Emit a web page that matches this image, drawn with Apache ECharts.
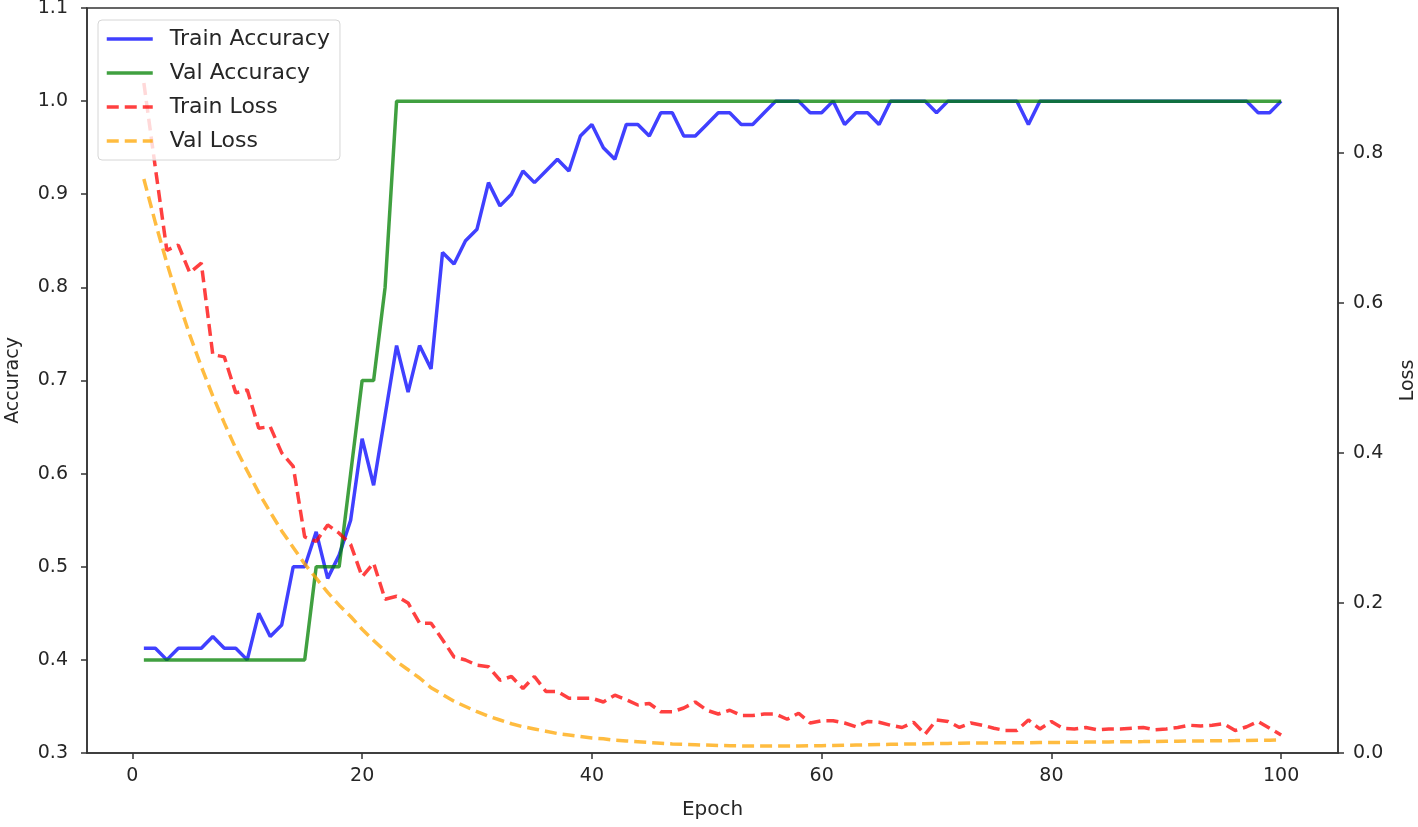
<!DOCTYPE html>
<html>
<head>
<meta charset="utf-8">
<script src="https://cdn.jsdelivr.net/npm/echarts@6/dist/echarts.min.js"></script>
<style>
  html, body { margin: 0; padding: 0; background: #fff; }
  #chart { width: 1418px; height: 827px; }
</style>
</head>
<body>
<div id="chart"></div>
<script>
// ---- data ----
const epochs = Array.from({length: 100}, (_, i) => i + 1);

const trainAcc = [
  0.4125, 0.4125, 0.4, 0.4125, 0.4125, 0.4125, 0.425, 0.4125, 0.4125, 0.4,
  0.45, 0.425, 0.4375, 0.5, 0.5, 0.5375, 0.4875, 0.5125, 0.55, 0.6375,
  0.5875, 0.6625, 0.7375, 0.6875, 0.7375, 0.7125, 0.8375, 0.825, 0.85, 0.8625,
  0.9125, 0.8875, 0.9, 0.925, 0.9125, 0.925, 0.9375, 0.925, 0.9625, 0.975,
  0.95, 0.9375, 0.975, 0.975, 0.9625, 0.9875, 0.9875, 0.9625, 0.9625, 0.975,
  0.9875, 0.9875, 0.975, 0.975, 0.9875, 1.0, 1.0, 1.0, 0.9875, 0.9875,
  1.0, 0.975, 0.9875, 0.9875, 0.975, 1.0, 1.0, 1.0, 1.0, 0.9875,
  1.0, 1.0, 1.0, 1.0, 1.0, 1.0, 1.0, 0.975, 1.0, 1.0,
  1.0, 1.0, 1.0, 1.0, 1.0, 1.0, 1.0, 1.0, 1.0, 1.0,
  1.0, 1.0, 1.0, 1.0, 1.0, 1.0, 1.0, 0.9875, 0.9875, 1.0
];

const valAcc = [
  0.4, 0.4, 0.4, 0.4, 0.4, 0.4, 0.4, 0.4, 0.4, 0.4,
  0.4, 0.4, 0.4, 0.4, 0.4, 0.5, 0.5, 0.5, 0.6, 0.7,
  0.7, 0.8, 1.0, 1.0, 1.0, 1.0, 1.0, 1.0, 1.0, 1.0,
  1.0, 1.0, 1.0, 1.0, 1.0, 1.0, 1.0, 1.0, 1.0, 1.0,
  1.0, 1.0, 1.0, 1.0, 1.0, 1.0, 1.0, 1.0, 1.0, 1.0,
  1.0, 1.0, 1.0, 1.0, 1.0, 1.0, 1.0, 1.0, 1.0, 1.0,
  1.0, 1.0, 1.0, 1.0, 1.0, 1.0, 1.0, 1.0, 1.0, 1.0,
  1.0, 1.0, 1.0, 1.0, 1.0, 1.0, 1.0, 1.0, 1.0, 1.0,
  1.0, 1.0, 1.0, 1.0, 1.0, 1.0, 1.0, 1.0, 1.0, 1.0,
  1.0, 1.0, 1.0, 1.0, 1.0, 1.0, 1.0, 1.0, 1.0, 1.0
];

const trainLoss = [
  0.893, 0.780, 0.670, 0.677, 0.640, 0.653, 0.531, 0.528, 0.480, 0.484,
  0.433, 0.435, 0.400, 0.382, 0.288, 0.282, 0.304, 0.293, 0.278, 0.235,
  0.253, 0.205, 0.209, 0.200, 0.173, 0.173, 0.151, 0.128, 0.124, 0.117,
  0.115, 0.097, 0.102, 0.086, 0.102, 0.082, 0.082, 0.073, 0.073, 0.073,
  0.068, 0.077, 0.071, 0.064, 0.066, 0.055, 0.055, 0.060, 0.068, 0.057,
  0.052, 0.057, 0.050, 0.050, 0.052, 0.052, 0.045, 0.053, 0.040, 0.043,
  0.043, 0.040, 0.035, 0.042, 0.041, 0.037, 0.034, 0.041, 0.025, 0.044,
  0.042, 0.034, 0.040, 0.037, 0.033, 0.030, 0.030, 0.044, 0.032, 0.042,
  0.033, 0.032, 0.034, 0.031, 0.032, 0.032, 0.033, 0.034, 0.031, 0.032,
  0.034, 0.037, 0.036, 0.037, 0.039, 0.030, 0.035, 0.042, 0.033, 0.024
];

const valLoss = [
  0.765, 0.707, 0.653, 0.603, 0.557, 0.515, 0.476, 0.440, 0.406, 0.376,
  0.347, 0.321, 0.296, 0.274, 0.252, 0.233, 0.214, 0.197, 0.182, 0.165,
  0.150, 0.136, 0.122, 0.111, 0.100, 0.087, 0.078, 0.069, 0.062, 0.055,
  0.049, 0.044, 0.039, 0.035, 0.032, 0.029, 0.026, 0.024, 0.022, 0.020,
  0.019, 0.017, 0.016, 0.015, 0.014, 0.013, 0.012, 0.0115, 0.011, 0.0105,
  0.0100, 0.0097, 0.0095, 0.0093, 0.0092, 0.0092, 0.0093, 0.0094, 0.0096, 0.0098,
  0.0100, 0.0103, 0.0106, 0.0109, 0.0112, 0.0115, 0.0118, 0.0120, 0.0123, 0.0126,
  0.0128, 0.0130, 0.0132, 0.0133, 0.0135, 0.0136, 0.0137, 0.0138, 0.0139, 0.0140,
  0.0142, 0.0143, 0.0145, 0.0146, 0.0148, 0.0149, 0.0151, 0.0152, 0.0154, 0.0156,
  0.0157, 0.0159, 0.0160, 0.0162, 0.0164, 0.0165, 0.0167, 0.0169, 0.0171, 0.0173
];

const xTicks = [0, 20, 40, 60, 80, 100];
const lossTicks = [0, 0.2, 0.4, 0.6, 0.8];

// ---- chart ----
const pair = arr => epochs.map((e, i) => [e, arr[i]]);
const FONT = 'DejaVu Sans';
const TXT = '#262626';
const AX = '#333333';

const chart = echarts.init(document.getElementById('chart'), null, {renderer: 'canvas'});
chart.setOption({
  animation: false,
  backgroundColor: '#ffffff',
  textStyle: { fontFamily: FONT },
  grid: {
    left: 87, right: 80, top: 8, bottom: 74,
    outerBoundsMode: 'none', containLabel: false,
    show: true, borderColor: AX, borderWidth: 1.5, backgroundColor: 'transparent'
  },
  legend: {
    orient: 'vertical',
    left: 98, top: 20,
    data: ['Train Accuracy', 'Val Accuracy', 'Train Loss', 'Val Loss'],
    itemWidth: 46, itemHeight: 14, itemGap: 12,
    padding: [8, 10, 8, 7],
    borderColor: '#d6d6d6', borderWidth: 1, borderRadius: 4,
    backgroundColor: 'rgba(255,255,255,0.8)',
    itemStyle: { opacity: 0 },
    lineStyle: { width: 3.5 },
    textStyle: { fontSize: 22, color: TXT, fontFamily: FONT, padding: [0, 0, 0, 12] }
  },
  xAxis: {
    type: 'value', min: -3.95, max: 104.95,
    name: 'Epoch', nameLocation: 'middle', nameGap: 47,
    nameTextStyle: { fontSize: 20, color: TXT, fontFamily: FONT },
    axisLine: { show: true, onZero: false, lineStyle: { color: AX, width: 1.5 } },
    axisTick: { show: true, length: 6, customValues: xTicks, lineStyle: { color: AX, width: 1.5 } },
    axisLabel: { customValues: xTicks, fontSize: 19, color: TXT, margin: 14, fontFamily: FONT },
    splitLine: { show: false }
  },
  yAxis: [
    {
      type: 'value', min: 0.3, max: 1.1, interval: 0.1, position: 'left',
      name: 'Accuracy', nameLocation: 'middle', nameGap: 64, nameRotate: 90,
      nameTextStyle: { fontSize: 19, color: TXT, fontFamily: FONT },
      axisLine: { show: true, onZero: false, lineStyle: { color: AX, width: 1.5 } },
      axisTick: { show: true, length: 6, lineStyle: { color: AX, width: 1.5 } },
      axisLabel: { fontSize: 19, color: TXT, margin: 19, fontFamily: FONT,
                   formatter: v => v.toFixed(1) },
      splitLine: { show: false }
    },
    {
      type: 'value', min: 0, max: 0.993, position: 'right',
      name: 'Loss', nameLocation: 'middle', nameGap: 61, nameRotate: 90,
      nameTextStyle: { fontSize: 19, color: TXT, fontFamily: FONT },
      axisLine: { show: true, onZero: false, lineStyle: { color: AX, width: 1.5 } },
      axisTick: { show: true, length: 6, customValues: lossTicks, lineStyle: { color: AX, width: 1.5 } },
      axisLabel: { customValues: lossTicks, fontSize: 19, color: TXT, margin: 15, fontFamily: FONT,
                   formatter: v => v.toFixed(1) },
      splitLine: { show: false }
    }
  ],
  series: [
    {
      name: 'Train Accuracy', type: 'line', yAxisIndex: 0, data: pair(trainAcc),
      showSymbol: false, symbol: 'none',
      itemStyle: { color: 'rgba(0,0,255,0.75)' },
      lineStyle: { color: 'rgba(0,0,255,0.75)', width: 3.5 }
    },
    {
      name: 'Val Accuracy', type: 'line', yAxisIndex: 0, data: pair(valAcc),
      showSymbol: false, symbol: 'none',
      itemStyle: { color: 'rgba(0,128,0,0.75)' },
      lineStyle: { color: 'rgba(0,128,0,0.75)', width: 3.5 }
    },
    {
      name: 'Train Loss', type: 'line', yAxisIndex: 1, data: pair(trainLoss),
      showSymbol: false, symbol: 'none',
      itemStyle: { color: 'rgba(255,0,0,0.75)' },
      lineStyle: { color: 'rgba(255,0,0,0.75)', width: 3.5, type: [12, 6] }
    },
    {
      name: 'Val Loss', type: 'line', yAxisIndex: 1, data: pair(valLoss),
      showSymbol: false, symbol: 'none',
      itemStyle: { color: 'rgba(255,165,0,0.75)' },
      lineStyle: { color: 'rgba(255,165,0,0.75)', width: 3.5, type: [12, 6] }
    }
  ]
});
</script>
</body>
</html>
